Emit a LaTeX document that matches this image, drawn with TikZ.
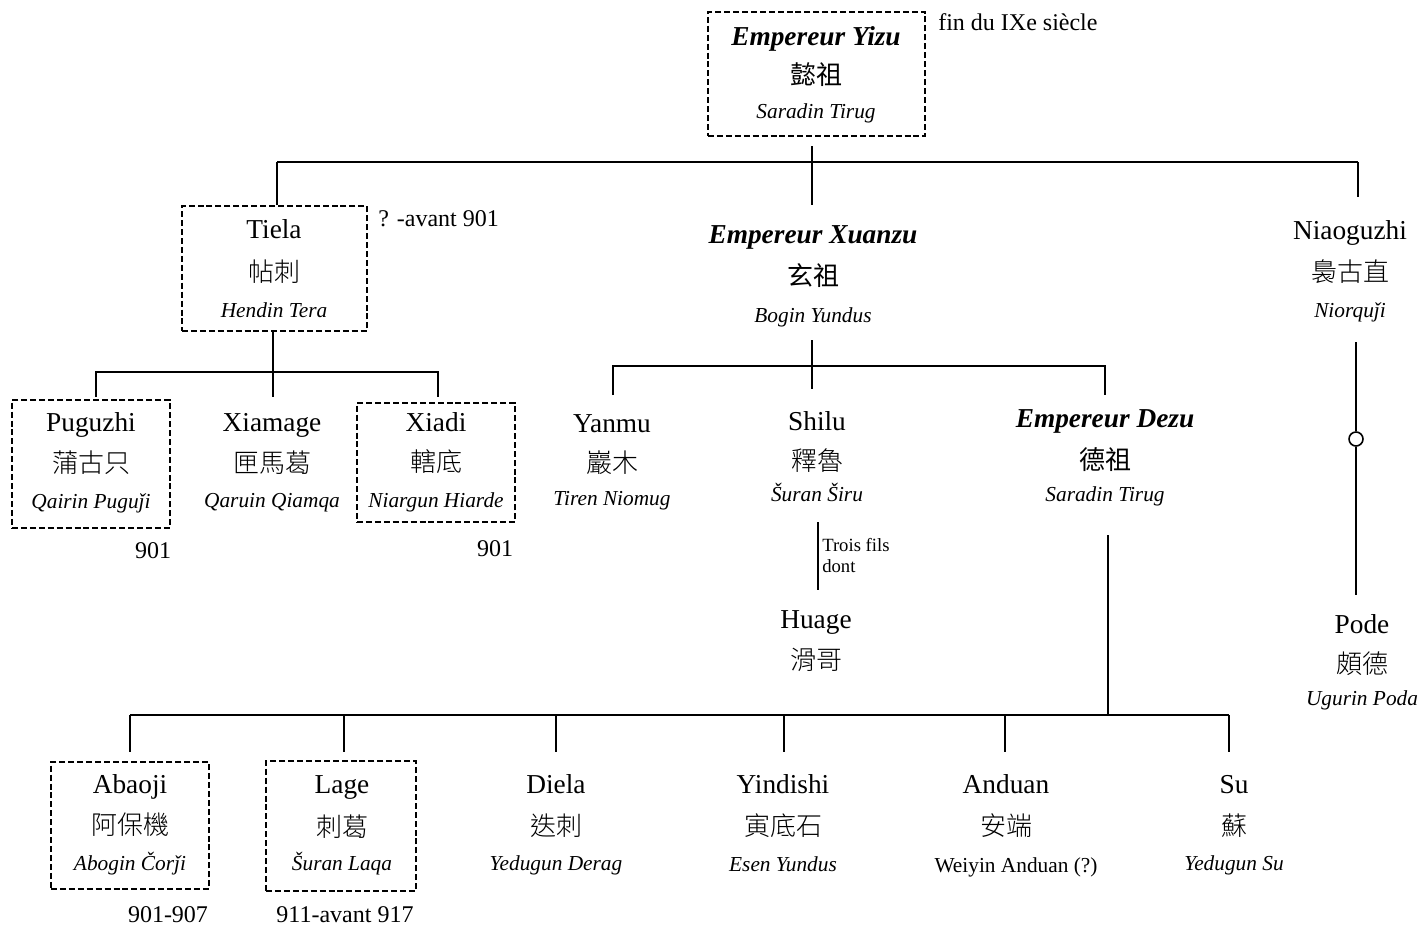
\documentclass[tikz,border=0pt]{standalone}
\usepackage{fontspec}
\setmainfont{Liberation Serif}
\newfontfamily\cjkf{Noto Sans CJK TC Light}
\newfontfamily\cjkbf{Noto Sans CJK TC}
\usetikzlibrary{fit}
\tikzset{
 nm/.style={anchor=base, inner sep=0, font=\fontsize{20.5}{24}\selectfont},
 emp/.style={anchor=base, inner sep=0, font=\fontsize{20.5}{24}\selectfont\bfseries\itshape},
 zh/.style={anchor=base, inner sep=0, font=\fontsize{19.5}{24}\selectfont\cjkf},
 zh-nm/.style={zh},
 zh-emp/.style={anchor=base, inner sep=0, font=\fontsize{19.5}{24}\selectfont\cjkbf},
 ro/.style={anchor=base, inner sep=0, font=\fontsize{16}{20}\selectfont\itshape},
 rou/.style={anchor=base, inner sep=0, font=\fontsize{16}{20}\selectfont},
 note/.style={anchor=base, inner sep=0, font=\fontsize{18}{22}\selectfont},
 notel/.style={anchor=base west, inner sep=0, font=\fontsize{18}{22}\selectfont},
 smallnote/.style={anchor=base west, inner sep=0, font=\fontsize{14}{17}\selectfont},
 dbox/.style={draw, line width=1.1pt, dash pattern=on 4.5pt off 2.2pt, inner sep=0},
 link/.style={line width=1.4pt},
}
\newcommand\pers[9]{%
 \node[#6] (#1-n) at (#2,#3+9) {#7};
 \node[zh-#6] (#1-z) at (#2,#4+10) {#8};
 \node[ro] (#1-r) at (#2,#5+7) {#9};}
\begin{document}
\begin{tikzpicture}[x=0.75pt,y=-0.75pt]
\useasboundingbox (0,0) rectangle (1423,925);
% persons
\pers{yizu}{816}{36}{74}{111}{emp}{Empereur Yizu}{懿祖}{Saradin Tirug}
\pers{tiela}{274}{229}{271}{310}{nm}{Tiela}{帖刺}{Hendin Tera}
\pers{puguzhi}{91}{422}{462}{501}{nm}{Puguzhi}{蒲古只}{Qairin Puguǰi}
\pers{xiamage}{272}{422}{462}{500}{nm}{Xiamage}{匣馬葛}{Qaruin Qiamqa}
\pers{xiadi}{436}{422}{461}{500}{nm}{Xiadi}{轄底}{Niargun Hiarde}
\pers{xuanzu}{813}{234}{275}{315}{emp}{Empereur Xuanzu}{玄祖}{Bogin Yundus}
\pers{yanmu}{612}{423}{462}{498}{nm}{Yanmu}{巖木}{Tiren Niomug}
\pers{shilu}{817}{421}{460}{494}{nm}{Shilu}{釋魯}{Šuran Širu}
\pers{dezu}{1105}{418}{459}{494}{emp}{Empereur Dezu}{德祖}{Saradin Tirug}
\node[nm] (huage-n) at (816,628) {Huage};
\node[zh] (huage-z) at (816,669) {滑哥};
\pers{niao}{1350}{230}{271}{310}{nm}{Niaoguzhi}{裊古直}{Niorquǰi}
\pers{pode}{1362}{624}{663}{698}{nm}{Pode}{頗德}{Ugurin Poda}
\pers{abaoji}{130}{784}{824}{863}{nm}{Abaoji}{阿保機}{Abogin Čorǰi}
\pers{lage}{342}{784}{826}{863}{nm}{Lage}{刺葛}{Šuran Laqa}
\pers{diela}{556}{784}{825}{863}{nm}{Diela}{迭刺}{Yedugun Derag}
\pers{yindishi}{783}{784}{825}{864}{nm}{Yindishi}{寅底石}{Esen Yundus}
\node[nm] (anduan-n) at (1006,793) {Anduan};
\node[zh] (anduan-z) at (1006,835) {安端};
\node[rou] (anduan-r) at (1016,872) {Weiyin Anduan (?)};
\pers{su}{1234}{784}{825}{863}{nm}{Su}{蘇}{Yedugun Su}
% boxes
\node[dbox, fit={(708,12) (925,136)}] (yizu-box) {};
\node[dbox, fit={(182,206) (367,331)}] (tiela-box) {};
\node[dbox, fit={(12,400) (170,528)}] (puguzhi-box) {};
\node[dbox, fit={(357,403) (515,522)}] (xiadi-box) {};
\node[dbox, fit={(51,762) (209,889)}] (abaoji-box) {};
\node[dbox, fit={(266,761) (416,891)}] (lage-box) {};
% notes
\node[notel] (n-yizu) at (938,30) {fin du IXe siècle};
\node[notel] (n-tiela) at (378,226) {? -avant 901};
\node[note] (n-pug) at (153,558) {901};
\node[note] (n-xiadi) at (495,556) {901};
\node[note] (n-abaoji) at (168,922) {901-907};
\node[note] (n-lage) at (345,922) {911-avant 917};
\node[smallnote] (n-trois) at (822,551) {Trois fils};
\node[smallnote] (n-dont) at (822,572) {dont};
% junction coordinates
\coordinate (a0) at (812,146);
\coordinate (a1) at (812,162);
\coordinate (aL) at (277,162);
\coordinate (aR) at (1358,162);
\coordinate (aX) at (812,205);
\coordinate (aN) at (1358,197);
\coordinate (t1) at (273,372);
\coordinate (tL) at (96,372);
\coordinate (tR) at (438,372);
\coordinate (tLb) at (96,397);
\coordinate (tMb) at (273,397);
\coordinate (tRb) at (438,397);
\coordinate (x0) at (812,340);
\coordinate (x1) at (812,366);
\coordinate (xL) at (613,366);
\coordinate (xR) at (1105,366);
\coordinate (xLb) at (613,395);
\coordinate (xMb) at (812,389);
\coordinate (xRb) at (1105,395);
\coordinate (s0) at (818,522);
\coordinate (s1) at (818,590);
\coordinate (d0) at (1108,535);
\coordinate (d1) at (1108,715);
\coordinate (dL) at (130,715);
\coordinate (dR) at (1229,715);
\foreach \i/\xx in {1/130,2/344,3/556,4/784,5/1005,6/1229}{
  \coordinate (dt\i) at (\xx,715);
  \coordinate (db\i) at (\xx,752);
}
\coordinate (p0) at (1356,342);
\coordinate (p1) at (1356,595);
\node[circle, draw, fill=white, minimum size=10.5pt, inner sep=0, line width=1.2pt] (pc) at (1356,439) {};
% connectors
\draw[link] (a0) -- (aX);
\draw[link] (aL) -- (aR);
\draw[link] (aL) -- (tiela-box.north -| aL);
\draw[link] (aR) -- (aN);
\draw[link] (tiela-box.south -| t1) -- (tMb);
\draw[link] (tLb) -- (tL) -- (tR) -- (tRb);
\draw[link] (x0) -- (xMb);
\draw[link] (xLb) -- (xL) -- (xR) -- (xRb);
\draw[link] (s0) -- (s1);
\draw[link] (d0) -- (d1);
\draw[link] (dL) -- (dR);
\foreach \i in {1,...,6}{\draw[link] (dt\i) -- (db\i);}
\draw[link] (p0) -- (pc.north);
\draw[link] (pc.south) -- (p1);
\end{tikzpicture}
\end{document}
